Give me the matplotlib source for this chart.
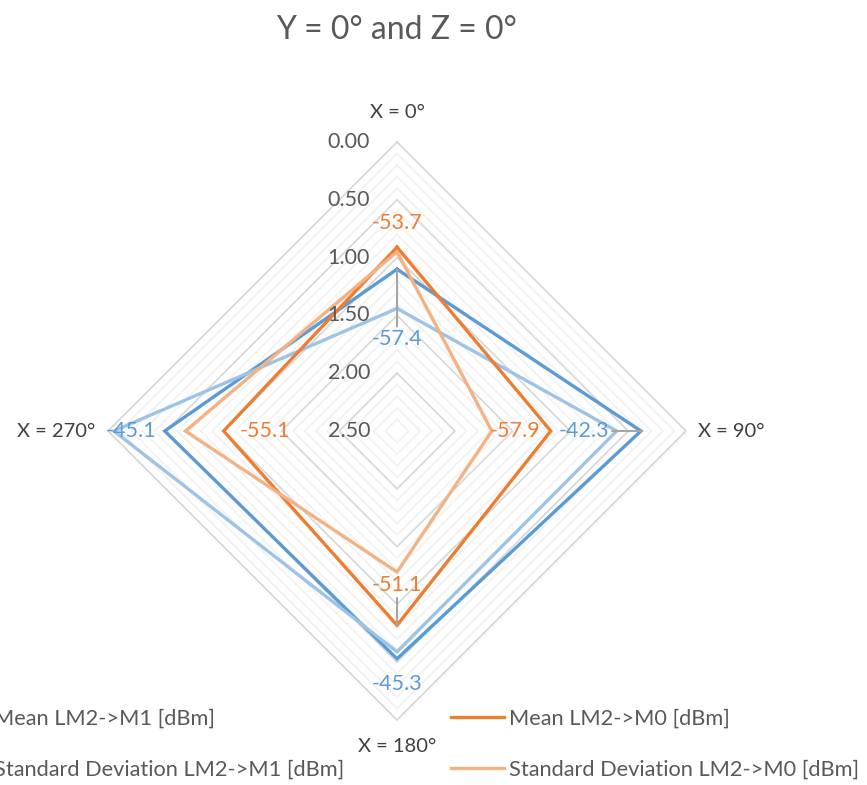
import numpy as np
import matplotlib.pyplot as plt

plt.rcParams['font.family'] = ['Lato', 'DejaVu Sans']

# data
categories = ['X = 0°', 'X = 90°', 'X = 180°', 'X = 270°']
mean_m1 = [1.10, 0.39, 0.53, 0.49]
std_m1 = [1.44, 0.60, 0.59, 0.05]
mean_m0 = [0.91, 1.17, 0.82, 1.00]
std_m0 = [0.95, 1.68, 1.28, 0.67]
labels_m1 = ['-57.4', '-42.3', '-45.3', '-45.1']
labels_m0 = ['-53.7', '-57.9', '-51.1', '-55.1']
r_ticks = [0.0, 0.5, 1.0, 1.5, 2.0, 2.5]
series_names = ['Mean LM2->M1 [dBm]', 'Standard Deviation LM2->M1 [dBm]',
                'Mean LM2->M0 [dBm]', 'Standard Deviation LM2->M0 [dBm]']
colors = ['#5B9BD5', '#9DC3E6', '#ED7D31', '#F4B183']

txt = '#595959'

fig = plt.figure(figsize=(8.67, 7.85), dpi=100)
ax = fig.add_axes([0.1246, 0.0828, 0.6667, 0.7363], projection='polar')
ax.set_theta_zero_location('N')
ax.set_theta_direction(-1)
ax.set_ylim(2.5, 0)
ax.grid(False)
ax.set_xticks([])
ax.set_yticks([])
ax.spines['polar'].set_visible(False)
ax.patch.set_alpha(0)

theta = np.linspace(0, 2 * np.pi, len(categories), endpoint=False)
theta_c = np.append(theta, theta[0])

# diamond gridlines: minor every 0.1, major every 0.5
for lv in np.round(np.arange(0, 2.5, 0.1), 2):
    major = abs(lv / 0.5 - round(lv / 0.5)) < 1e-6
    ax.plot(theta_c, [lv] * len(theta_c), color='#D9D9D9' if major else '#F2F2F2',
            lw=1.3, zorder=1 if major else 0.5, clip_on=False)

handles = []
for vals, c, name in zip([mean_m1, std_m1, mean_m0, std_m0], colors, series_names):
    h, = ax.plot(theta_c, vals + vals[:1], color=c, lw=2.4, label=name,
                 zorder=3, clip_on=False, solid_joinstyle='miter')
    handles.append(h)

# radial tick labels
for t in r_ticks:
    ax.annotate(f'{t:.2f}', xy=(0, t), xytext=(-27, 0), textcoords='offset pixels',
                ha='right', va='center', fontsize=15.5, color=txt)

# category labels
cat_off = [((0, 30), 'center'), ((12, 0), 'left'), ((0, -26), 'center'), ((-13, 0), 'right')]
for th, name, (off, ha) in zip(theta, categories, cat_off):
    ax.annotate(name, xy=(th, 0), xytext=off, textcoords='offset pixels',
                ha=ha, va='center', fontsize=14.5, color='#404040', annotation_clip=False)

# data labels (offsets in pixels, leader lines where the label was moved)
lead = dict(arrowstyle='-', color='#A6A6A6', lw=1.5, shrinkA=0, shrinkB=0)
off_m1 = [(0, -70), (-57, 0), (0, -25), (-34, 0)]
lead_m1 = [True, True, False, False]
off_m0 = [(0, 24), (-36, 0), (0, 40), (41, 0)]
lead_m0 = [False, False, True, False]
for vals, labs, offs, leads, c in [(mean_m1, labels_m1, off_m1, lead_m1, colors[0]),
                                    (mean_m0, labels_m0, off_m0, lead_m0, colors[2])]:
    for th, v, lab, off, ld in zip(theta, vals, labs, offs, leads):
        ax.annotate(lab, xy=(th, v), xytext=off, textcoords='offset pixels',
                    ha='center', va='center', fontsize=15.5, color=c, zorder=5,
                    arrowprops=lead if ld else None, annotation_clip=False)

fig.text(0.4573, 0.962, 'Y = 0° and Z = 0°', ha='center', va='center',
         fontsize=23, color=txt)

# legend runs off the left edge, as in the original export
fig.legend(handles=handles, loc='center left', bbox_to_anchor=(-0.096, 0.052),
           ncol=2, frameon=False, fontsize=15.7, handlelength=2.43, handletextpad=0.23,
           columnspacing=4.9, labelspacing=1.45, labelcolor=txt)

fig.savefig('out.png', dpi=100)
